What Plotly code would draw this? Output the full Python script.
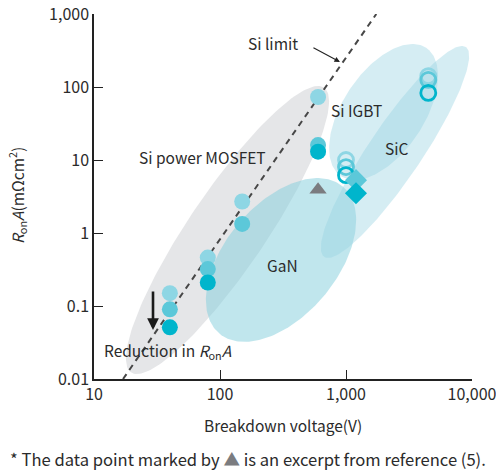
import math
import numpy as np
import plotly.graph_objects as go

# ---------------- data ----------------
x_ticks = [10, 100, 1000, 10000]
x_tick_text = ["10", "100", "1,000", "10,000"]
y_ticks = [0.01, 0.1, 1, 10, 100, 1000]
y_tick_text = ["0.01", "0.1", "1", "10", "100", "1,000"]

# Si MOSFET / IGBT filled circles (three generations)
si_light_v = [40, 80, 150, 600]
si_light_r = [0.15, 0.46, 2.7, 73]
si_mid_v = [40, 80, 150, 600]
si_mid_r = [0.09, 0.32, 1.33, 16]
si_dark_v = [40, 80, 600]
si_dark_r = [0.051, 0.21, 13]

# SiC open circles
sic_light_v = [1000, 4500]
sic_light_r = [10.0, 141]
sic_mid_v = [1000, 4500]
sic_mid_r = [8.0, 125]
sic_dark_v = [1000, 4500]
sic_dark_r = [6.2, 83]

# SiC diamonds
dia_light_v = [1200]
dia_light_r = [5.3]
dia_dark_v = [1200]
dia_dark_r = [3.5]

# reference point (triangle)
ref_v = [600]
ref_r = [3.9]

# Si limit line endpoints
si_limit_v = [17, 1740]
si_limit_r = [0.01, 1000]

# ---------------- style ----------------
LIGHT = "rgb(142,214,228)"
MID = "rgb(92,200,217)"
DARK = "rgb(0,181,204)"
FONT = "Noto Sans CJK JP"
TXT = "#2b2b2b"

PLOT_W, PLOT_H = 378, 365          # px of plotting area
X_DEC, Y_DEC = 3, 5                # decades spanned
PXX, PXY = PLOT_W / X_DEC, PLOT_H / Y_DEC

# region ellipses: centre (V, RonA), semi axes in px, angle in deg
regions = [
    dict(name="Si", c=(114.7, 1.10), a=172, b=38.5, ang=55.9, fill="rgb(229,230,232)"),
    dict(name="GaN", c=(305, 0.427), a=96, b=56, ang=50, fill="rgba(130,205,220,0.5)"),
    dict(name="SiC1", c=(1986, 45.5), a=77, b=40.7, ang=56.4, fill="rgba(150,210,225,0.4)"),
    dict(name="SiC2", c=(2449, 12.9), a=126.6, b=26.5, ang=56, fill="rgba(150,210,225,0.4)"),
]

fig = go.Figure()

t = np.linspace(0, 2 * np.pi, 200)
for r in regions:
    th = math.radians(r["ang"])
    dx = r["a"] * np.cos(t) * math.cos(th) - r["b"] * np.sin(t) * math.sin(th)
    dy = r["a"] * np.cos(t) * math.sin(th) + r["b"] * np.sin(t) * math.cos(th)
    lx = math.log10(r["c"][0]) + dx / PXX
    ly = math.log10(r["c"][1]) + dy / PXY
    fig.add_trace(go.Scatter(x=10 ** lx, y=10 ** ly, mode="lines", fill="toself",
                             fillcolor=r["fill"], line=dict(width=0),
                             hoverinfo="skip", showlegend=False))

# Si limit
fig.add_trace(go.Scatter(x=si_limit_v, y=si_limit_r, mode="lines",
                         line=dict(color="#474747", width=2, dash="6px,5px"),
                         showlegend=False, hoverinfo="skip"))

def pts(x, y, color, symbol="circle", size=16, lw=0):
    mk = dict(color=color, size=size, symbol=symbol)
    if "open" in symbol:
        mk["line"] = dict(width=lw, color=color)
    else:
        mk["line"] = dict(width=0)
    fig.add_trace(go.Scatter(x=x, y=y, mode="markers", marker=mk, showlegend=False))

pts(si_light_v, si_light_r, LIGHT)
pts(si_mid_v, si_mid_r, MID)
pts(si_dark_v, si_dark_r, DARK)
pts(sic_light_v, sic_light_r, LIGHT, "circle-open", 15, 2.8)
pts(sic_mid_v, sic_mid_r, MID, "circle-open", 15, 2.8)
pts(sic_dark_v, sic_dark_r, DARK, "circle-open", 15, 2.8)
pts(dia_light_v, dia_light_r, MID, "diamond", 17)
pts(dia_dark_v, dia_dark_r, DARK, "diamond", 17)
pts(ref_v, ref_r, "#7b7c80", "triangle-up", 15)

L = math.log10
ann = []
def label(text, v, r, size=15.5, **kw):
    ann.append(dict(text=text, x=L(v), y=L(r), xref="x", yref="y", showarrow=False,
                    xanchor="center", yanchor="middle",
                    font=dict(family=FONT, size=size, color=TXT), **kw))

label("Si power MOSFET", 73, 11)
label("Si IGBT", 1222, 48)
label("SiC", 2540, 14.6)
label("GaN", 316, 0.365)
label("Reduction in <i>R</i><sub>on</sub><i>A</i>", 10 ** 1.587, 10 ** -1.616)
label("Si limit", 10 ** 2.42, 10 ** 2.603)

# Si limit arrow
ann.append(dict(text="", x=2.952, y=2.342, xref="x", yref="y", showarrow=True,
                ax=-28, ay=-15, arrowhead=2, arrowsize=1, arrowwidth=1.1, arrowcolor="#222"))
# reduction arrow
ann.append(dict(text="", x=L(29.4), y=L(0.047), xref="x", yref="y", showarrow=True,
                axref="x", ayref="y", ax=L(29.4), ay=L(0.166),
                arrowhead=2, arrowsize=0.9, arrowwidth=2.6, arrowcolor="#1a1a1a"))

# axis titles & footnote (positions in page pixels, converted to paper units)
def px(xp):
    return (xp - 94) / PLOT_W
def py(yp):
    return (379 - yp) / PLOT_H

ann.append(dict(text="Breakdown voltage(V)", x=px(283), y=py(425),
                xref="paper", yref="paper", showarrow=False, xanchor="center", yanchor="middle",
                font=dict(family=FONT, size=15.5, color=TXT)))
ann.append(dict(text="<i>R</i><sub>on</sub><i>A</i>(mΩcm<sup>2</sup>)", textangle=-90,
                x=px(17), y=py(196), xanchor="center", yanchor="middle",
                xref="paper", yref="paper", showarrow=False,
                font=dict(family=FONT, size=15.5, color=TXT)))
ann.append(dict(text="* The data point marked by <span style='color:#7b7c80'>▲</span> is an excerpt from reference (5).",
                x=px(8), y=py(459), xanchor="left", yanchor="middle",
                xref="paper", yref="paper", showarrow=False,
                font=dict(family=FONT, size=16.6, color=TXT)))

axis_common = dict(type="log", showgrid=False, zeroline=False, showline=True,
                   linecolor="#222", linewidth=1.5, ticks="inside", ticklen=9,
                   tickwidth=1.3, tickcolor="#222", automargin=False,
                   ticklabeloverflow="allow",
                   tickfont=dict(family=FONT, size=16, color=TXT))

fig.update_layout(
    width=496, height=472,
    margin=dict(l=94, r=24, t=14, b=93, autoexpand=False),
    paper_bgcolor="white", plot_bgcolor="white",
    xaxis=dict(range=[1, 4], tickvals=x_ticks, ticktext=x_tick_text, **axis_common),
    yaxis=dict(range=[-2, 3], tickvals=y_ticks, ticktext=y_tick_text, **axis_common),
    annotations=ann,
    showlegend=False,
)

fig.write_html("out.html", config={"displayModeBar": False},
               post_script="document.body.style.margin='0';document.body.style.overflow='hidden';")
